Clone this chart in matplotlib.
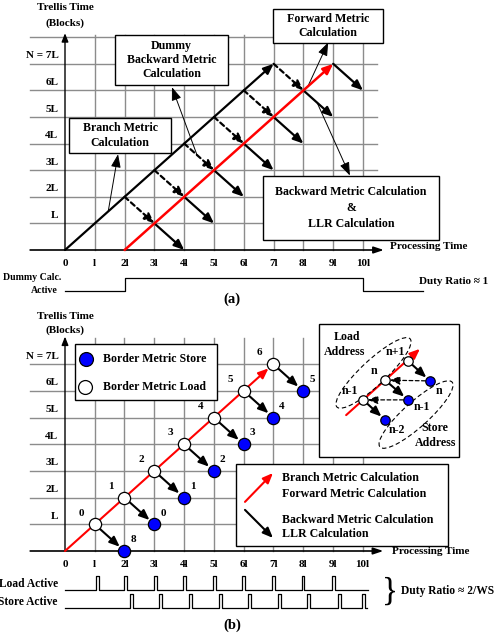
import numpy as np
import matplotlib
matplotlib.use('Agg')
import matplotlib.pyplot as plt
import matplotlib.transforms as mtransforms
from matplotlib.patches import Rectangle, Ellipse

plt.rcParams['font.family'] = ['Liberation Serif', 'DejaVu Serif']
plt.rcParams['font.weight'] = 'bold'

# ---- shared axis values (x in units of l, y in units of L) ----
x_ticks = list(range(0, 11))
x_labels = ['0', 'l', '2l', '3l', '4l', '5l', '6l', '7l', '8l', '9l', '10l']
y_ticks = list(range(1, 8))
y_labels = ['L', '2L', '3L', '4L', '5L', '6L', 'N = 7L']

# ---- panel (a) ----
branch_x = [0, 7]
branch_y = [0, 7]
forward_a_x = [2, 9]
forward_a_y = [0, 7]
dummy_x = [2, 3, 4, 5, 6, 7]          # dummy backward start (k, k) -> (k+1, k-1)
dummy_y = [2, 3, 4, 5, 6, 7]
backward_x = [3, 4, 5, 6, 7, 8, 9]    # backward start -> (x+1, y-1)
backward_y = [1, 2, 3, 4, 5, 6, 7]
dummy_active_x = [0, 2, 2, 10, 10, 12]
dummy_active_lvl = [0, 0, 1, 1, 0, 0]

# ---- panel (b) ----
load_x = [1, 2, 3, 4, 5, 6, 7]
load_y = [1, 2, 3, 4, 5, 6, 7]
load_ids = ['0', '1', '2', '3', '4', '5', '6']
store_x = [2, 3, 4, 5, 6, 7, 8]
store_y = [0, 1, 2, 3, 4, 5, 6]
store_ids = ['8', '0', '1', '2', '3', '4', '5']
load_pulses = [1.04, 2.0, 3.0, 3.96, 4.97, 5.94, 6.95, 7.95, 8.96]
store_pulses = [2.18, 3.16, 4.17, 5.17, 6.15, 7.15, 8.12, 9.17, 9.97]
pulse_width = 0.1

# inset (address scheme)
inset_load = [(11.53, 7.12), (10.76, 6.40), (10.02, 5.66)]
inset_load_ids = ['n+1', 'n', 'n-1']
inset_store = [(12.27, 6.37), (11.53, 5.66), (10.76, 4.91)]
inset_store_ids = ['n', 'n-1', 'n-2']

RED = '#ff0000'
BLUE = '#0000ff'
GRID = '#8c8c8c'
FS_BOX = 8.6
FS_AX = 8.0


def arrow(ax, p0, p1, color='black', lw=1.6, ls='-', head=(0.6, 0.25), sa=0, sb=0, z=3):
    ax.annotate('', xy=p1, xytext=p0,
                arrowprops=dict(arrowstyle='-|>,head_length=%g,head_width=%g' % head,
                                color=color, lw=lw, linestyle=ls, mutation_scale=10,
                                shrinkA=sa, shrinkB=sb),
                zorder=z)


def grid(ax, top_h, top_v):
    for yv in range(1, top_h + 1):
        ax.plot([-1.17, 10.47], [yv, yv], color=GRID, lw=1.0, zorder=1)
    for xv in range(1, 11):
        ax.plot([xv, xv], [0, top_v], color=GRID, lw=1.0, zorder=1)
    arrow(ax, (0, 0), (0, top_v + 0.05), lw=1.0, head=(0.5, 0.2), z=2)
    arrow(ax, (-1.17, 0), (10.7, 0), lw=1.2, head=(0.6, 0.2), z=2)
    for xv, lab in zip(x_ticks, x_labels):
        ax.text(xv, -0.5, lab, ha='center', va='center', fontsize=FS_AX)
    for yv, lab in zip(y_ticks, y_labels):
        ax.text(-0.22, yv + 0.3, lab, ha='right', va='center', fontsize=FS_AX)


def box(ax, x0, y0, x1, y1, z=5):
    ax.add_patch(Rectangle((x0, y0), x1 - x0, y1 - y0, facecolor='white',
                           edgecolor='black', lw=1.0, zorder=z))


def waveform(ax, pulses, end, base, h):
    xs, ys = [0], [base]
    for p in pulses:
        xs += [p, p, p + pulse_width, p + pulse_width]
        ys += [base, base + h, base + h, base]
    xs.append(end)
    ys.append(base)
    ax.plot(xs, ys, color='black', lw=0.9, zorder=3)


def dashed_ellipse(fig, ax, cx, cy, w, h, ang):
    tr = fig.dpi_scale_trans + mtransforms.ScaledTranslation(cx, cy, ax.transData)
    ax.add_patch(Ellipse((0, 0), w, h, angle=ang, transform=tr, fill=False,
                         edgecolor='black', lw=0.8, linestyle=(0, (4, 2.5)), zorder=7))


fig = plt.figure(figsize=(4.95, 6.37), dpi=100)

# ================= panel (a) =================
ax = fig.add_axes([0, 1 - 310 / 637, 1, 310 / 637])
ax.set_xlim(-65 / 29.8, 430 / 29.8)
ax.set_ylim(-60 / 26.6, 250 / 26.6)
ax.axis('off')
grid(ax, 8, 8.1)
ax.text(0, 9.1, 'Trellis Time', ha='center', va='center', fontsize=FS_AX)
ax.text(0, 8.53, '(Blocks)', ha='center', va='center', fontsize=FS_AX)
ax.text(10.9, 0.12, 'Processing Time', ha='left', va='center', fontsize=FS_AX)

arrow(ax, (branch_x[0], branch_y[0]), (branch_x[1], branch_y[1]), lw=1.6)
arrow(ax, (forward_a_x[0], forward_a_y[0]), (forward_a_x[1], forward_a_y[1]), color=RED, lw=1.8, z=4)
for xs, ys in zip(dummy_x, dummy_y):
    arrow(ax, (xs, ys), (xs + 1, ys - 1), lw=1.6, ls=(0, (2.2, 1.6)))
for xs, ys in zip(backward_x, backward_y):
    arrow(ax, (xs, ys), (xs + 1, ys - 1), lw=1.6)

# annotation boxes
box(ax, 0.13, 3.65, 3.56, 4.96)
ax.text(1.85, 4.31, 'Branch Metric\nCalculation', ha='center', va='center',
        fontsize=FS_BOX, linespacing=1.3, zorder=6)
arrow(ax, (1.45, 1.45), (1.78, 3.6), lw=0.7, head=(0.8, 0.3))

box(ax, 1.68, 6.2, 5.47, 8.08)
ax.text(3.57, 7.14, 'Dummy\nBackward Metric\nCalculation', ha='center', va='center',
        fontsize=FS_BOX, linespacing=1.2, zorder=6)
arrow(ax, (4.43, 3.57), (3.59, 6.12), lw=0.7, head=(0.8, 0.3))

box(ax, 6.98, 7.78, 10.67, 9.06)
ax.text(8.83, 8.42, 'Forward Metric\nCalculation', ha='center', va='center',
        fontsize=FS_BOX, linespacing=1.2, zorder=6)
arrow(ax, (8.15, 6.15), (8.83, 7.8), lw=0.7, head=(0.8, 0.3))

box(ax, 6.64, 0.38, 12.55, 2.78)
ax.text(9.6, 1.58, 'Backward Metric Calculation\n&\nLLR Calculation', ha='center',
        va='center', fontsize=FS_BOX, linespacing=1.45, zorder=6)
arrow(ax, (8.46, 5.54), (9.56, 2.8), lw=0.7, head=(0.8, 0.3))

# dummy calc active waveform
ax.plot(dummy_active_x, [-1.54 + 0.49 * v for v in dummy_active_lvl], color='black', lw=0.9)
ax.text(-0.13, -1.05, 'Dummy Calc.', ha='right', va='center', fontsize=7.1)
ax.text(-0.24, -1.54, 'Active', ha='right', va='center', fontsize=7.1)
ax.text(11.88, -1.2, 'Duty Ratio \u2248 1', ha='left', va='center', fontsize=FS_AX)
ax.text(5.6, -1.85, '(a)', ha='center', va='center', fontsize=10.5)

# ================= panel (b) =================
ax = fig.add_axes([0, 0, 1, 327 / 637])
ax.set_xlim(-65 / 29.75, 430 / 29.75)
ax.set_ylim(-86 / 26.7, 241 / 26.7)
ax.axis('off')
grid(ax, 7, 7.98)
ax.text(0, 8.8, 'Trellis Time', ha='center', va='center', fontsize=FS_AX)
ax.text(0, 8.28, '(Blocks)', ha='center', va='center', fontsize=FS_AX)
ax.text(10.99, 0.0, 'Processing Time', ha='left', va='center', fontsize=FS_AX)

arrow(ax, (0, 0), (load_x[-1], load_y[-1]), color=RED, lw=1.5, sb=4.6)
for lx, ly, sx, sy in zip(load_x, load_y, store_x, store_y):
    arrow(ax, (lx, ly), (sx, sy), lw=1.5, sa=4.3, sb=4.6)
ax.plot(load_x, load_y, 'o', ms=8.8, mfc='white', mec='black', mew=0.9, zorder=4)
ax.plot(store_x, store_y, 'o', ms=8.8, mfc=BLUE, mec='black', mew=0.9, zorder=4)
for lx, ly, t in zip(load_x, load_y, load_ids):
    ax.text(lx - 0.45, ly + 0.42, t, ha='center', va='center', fontsize=FS_AX)
for sx, sy, t in zip(store_x, store_y, store_ids):
    ax.text(sx + 0.3, sy + 0.42, t, ha='center', va='center', fontsize=FS_AX)

# legend box for circles
box(ax, 0.34, 5.66, 5.11, 7.75)
ax.plot([0.71], [7.19], 'o', ms=10, mfc=BLUE, mec='black', mew=0.9, zorder=6)
ax.plot([0.67], [6.14], 'o', ms=10, mfc='white', mec='black', mew=0.9, zorder=6)
ax.text(1.28, 7.19, 'Border Metric Store', ha='left', va='center', fontsize=FS_BOX, zorder=6)
ax.text(1.28, 6.14, 'Border Metric Load', ha='left', va='center', fontsize=FS_BOX, zorder=6)

# inset: load / store address
box(ax, 8.54, 3.52, 13.24, 8.5)
ax.text(9.48, 8.0, 'Load', ha='center', va='center', fontsize=FS_BOX, zorder=6)
ax.text(9.41, 7.45, 'Address', ha='center', va='center', fontsize=FS_BOX, zorder=6)
ax.text(12.44, 4.6, 'Store', ha='center', va='center', fontsize=FS_BOX, zorder=6)
ax.text(12.44, 4.04, 'Address', ha='center', va='center', fontsize=FS_BOX, zorder=6)
dashed_ellipse(fig, ax, 10.37, 6.67, 1.0, 0.25, 43)
dashed_ellipse(fig, ax, 11.8, 5.11, 0.97, 0.25, 42)
arrow(ax, (9.45, 5.09), (11.93, 7.57), color=RED, lw=1.5, z=6)
for (lx, ly), (sx, sy) in zip(inset_load, inset_store):
    arrow(ax, (lx, ly), (sx, sy), lw=1.5, sa=3.2, sb=3.6, z=6)
for (sx, sy), (lx, ly) in zip(inset_store[:2], inset_load[1:]):
    arrow(ax, (sx, sy), (lx, ly), lw=0.9, ls=(0, (3, 2)), head=(0.6, 0.25), sa=3.4, sb=3.4, z=6)
ax.plot([p[0] for p in inset_load], [p[1] for p in inset_load], 'o', ms=6.8,
        mfc='white', mec='black', mew=0.9, zorder=8)
ax.plot([p[0] for p in inset_store], [p[1] for p in inset_store], 'o', ms=6.8,
        mfc=BLUE, mec='black', mew=0.9, zorder=8)
for (lx, ly), t, dx, dy in zip(inset_load, inset_load_ids, [-0.44, -0.37, -0.44], [0.33, 0.34, 0.33]):
    ax.text(lx + dx, ly + dy, t, ha='center', va='center', fontsize=FS_BOX, zorder=8)
for (sx, sy), t, dx, dy in zip(inset_store, inset_store_ids, [0.3, 0.47, 0.4], [-0.38, -0.27, -0.38]):
    ax.text(sx + dx, sy + dy, t, ha='center', va='center', fontsize=FS_BOX, zorder=8)

# legend box for arrows
box(ax, 5.75, 0.19, 12.87, 3.26)
arrow(ax, (6.05, 1.84), (6.99, 2.92), color=RED, lw=1.5, z=6)
arrow(ax, (6.05, 1.54), (6.99, 0.49), lw=1.5, z=6)
ax.text(7.29, 2.73, 'Branch Metric Calculation', ha='left', va='center', fontsize=FS_BOX, zorder=6)
ax.text(7.29, 2.13, 'Forward Metric Calculation', ha='left', va='center', fontsize=FS_BOX, zorder=6)
ax.text(7.29, 1.16, 'Backward Metric Calculation', ha='left', va='center', fontsize=FS_BOX, zorder=6)
ax.text(7.29, 0.64, 'LLR Calculation', ha='left', va='center', fontsize=FS_BOX, zorder=6)

# load / store active waveforms
waveform(ax, load_pulses, 10.2, -1.46, 0.52)
waveform(ax, store_pulses, 10.15, -2.13, 0.52)
ax.text(-0.24, -1.24, 'Load Active', ha='right', va='center', fontsize=8.3)
ax.text(-0.24, -1.91, 'Store Active', ha='right', va='center', fontsize=8.3)
ax.text(10.92, -1.5, '}', ha='center', va='center', fontsize=24, fontweight='normal')
ax.text(11.29, -1.5, 'Duty Ratio \u2248 2/WS', ha='left', va='center', fontsize=8.3)
ax.text(5.61, -2.77, '(b)', ha='center', va='center', fontsize=10.5)

fig.savefig('out.png', dpi=100)
